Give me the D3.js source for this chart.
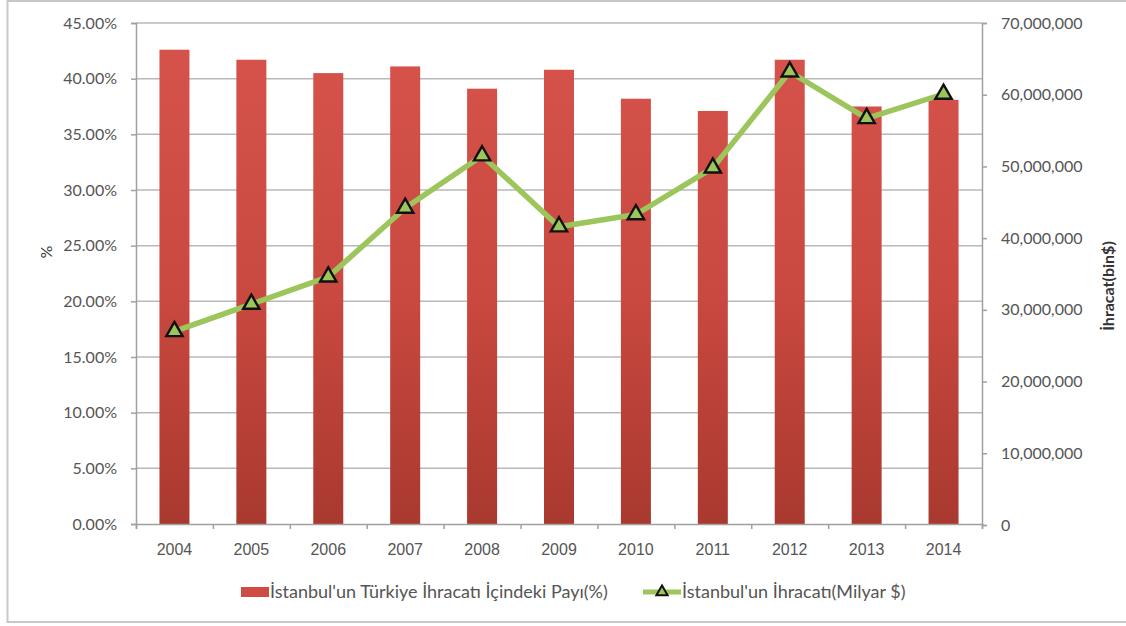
<!DOCTYPE html>
<html>
<head>
<meta charset="utf-8">
<script src="https://cdn.jsdelivr.net/npm/d3@7"></script>
<style>
  html, body { margin: 0; padding: 0; background: #fff; }
  svg { display: block; font-family: Lato, "Open Sans", sans-serif; }
</style>
</head>
<body>
<svg id="chart" width="1126" height="626"></svg>
<script>
// Years on the x axis
const years = ["2004", "2005", "2006", "2007", "2008", "2009", "2010", "2011", "2012", "2013", "2014"];
// Istanbul's share of Turkey's exports (%)
const sharePct = [42.6, 41.7, 40.5, 41.1, 39.1, 40.8, 38.2, 37.1, 41.7, 37.5, 38.1];
// Istanbul's exports (thousand $)
const exportsK = [27000000, 30800000, 34600000, 44200000, 51500000, 41600000, 43300000, 49800000, 63200000, 56700000, 60100000];
// Axis tick values
const leftTicks = [0, 5, 10, 15, 20, 25, 30, 35, 40, 45];
const rightTicks = [0, 10000000, 20000000, 30000000, 40000000, 50000000, 60000000, 70000000];
const legendLabels = ["İstanbul'un Türkiye İhracatı İçindeki Payı(%)", "İstanbul'un İhracatı(Milyar $)"];

const svg = d3.select("#chart");
const plot = { left: 136, right: 982, top: 23, bottom: 524 };
const textColor = "#555";
const gridColor = "#b8b8b8";
const axisColor = "#a0a0a0";
const green = "#9cc55c";
const tickFont = 16;

// Outer frame
svg.append("rect")
  .attr("x", 7.5).attr("y", 1).attr("width", 1130).attr("height", 621)
  .attr("fill", "none").attr("stroke", "#c8c8c8").attr("stroke-width", 2);

const x = d3.scaleBand().domain(years).range([plot.left, plot.right]).paddingInner(0.61).paddingOuter(0.305);
const xEdges = d3.scaleLinear().domain([0, years.length]).range([plot.left, plot.right]);
const yL = d3.scaleLinear().domain([0, 45]).range([plot.bottom, plot.top]);
const yR = d3.scaleLinear().domain([0, 70000000]).range([plot.bottom + 1, plot.top]);

// Bar gradient
const defs = svg.append("defs");
const grad = defs.append("linearGradient").attr("id", "barGrad")
  .attr("gradientUnits", "userSpaceOnUse")
  .attr("x1", 0).attr("x2", 0).attr("y1", plot.top).attr("y2", plot.bottom);
grad.append("stop").attr("offset", "0%").attr("stop-color", "#d6544c");
grad.append("stop").attr("offset", "55%").attr("stop-color", "#c9483f");
grad.append("stop").attr("offset", "100%").attr("stop-color", "#a9392f");

// Gridlines
svg.append("g")
  .selectAll("line").data(leftTicks.filter(d => d > 0)).join("line")
  .attr("x1", plot.left).attr("x2", plot.right)
  .attr("y1", d => yL(d)).attr("y2", d => yL(d))
  .attr("stroke", gridColor).attr("stroke-width", 1.5);

// Bars
svg.append("g")
  .selectAll("rect").data(years).join("rect")
  .attr("x", d => x(d))
  .attr("width", x.bandwidth())
  .attr("y", (d, i) => yL(sharePct[i]))
  .attr("height", (d, i) => plot.bottom - yL(sharePct[i]))
  .attr("fill", "url(#barGrad)");

// Left axis
const leftAxis = svg.append("g")
  .attr("transform", `translate(${plot.left},0)`)
  .call(d3.axisLeft(yL).tickValues(leftTicks).tickFormat(d => d3.format(".2f")(d) + "%").tickSize(5).tickPadding(14));
// Right axis
const rightAxis = svg.append("g")
  .attr("transform", `translate(${plot.right},0)`)
  .call(d3.axisRight(yR).tickValues(rightTicks).tickFormat(d3.format(",")).tickSize(5).tickPadding(14));
// Bottom axis: ticks sit between categories
const bottomAxis = svg.append("g")
  .attr("transform", `translate(0,${plot.bottom})`)
  .call(d3.axisBottom(xEdges).tickValues(d3.range(years.length + 1)).tickFormat("").tickSize(5));
bottomAxis.append("g").selectAll("text").data(years).join("text")
  .attr("x", d => x(d) + x.bandwidth() / 2)
  .attr("y", 31)
  .attr("text-anchor", "middle")
  .attr("fill", textColor)
  .attr("font-size", tickFont)
  .text(d => d);

[leftAxis, rightAxis, bottomAxis].forEach(g => {
  g.select(".domain").attr("stroke", axisColor).attr("stroke-width", 1.5);
  g.selectAll(".tick line").attr("stroke", axisColor).attr("stroke-width", 1.5);
  g.selectAll(".tick text").attr("fill", textColor).attr("font-size", tickFont).attr("font-family", "Lato, sans-serif");
});

// Axis titles
svg.append("text")
  .attr("transform", "translate(52,252) rotate(-90)")
  .attr("text-anchor", "middle")
  .attr("fill", "#333").attr("font-size", 16)
  .text("%");
svg.append("text")
  .attr("transform", "translate(1114,286) rotate(-90)")
  .attr("text-anchor", "middle")
  .attr("fill", "#333").attr("font-size", 16).attr("font-weight", "bold")
  .text("İhracat(bin$)");

// Export line
const cx = (d, i) => x(years[i]) + x.bandwidth() / 2;
const line = d3.line().x((d, i) => cx(d, i)).y(d => yR(d));
svg.append("path")
  .datum(exportsK)
  .attr("d", line)
  .attr("fill", "none")
  .attr("stroke", green)
  .attr("stroke-width", 5.5)
  .attr("stroke-linejoin", "round");

// Triangle markers
const tri = d3.symbol().type(d3.symbolTriangle).size(115);
svg.append("g")
  .selectAll("path").data(exportsK).join("path")
  .attr("transform", (d, i) => `translate(${cx(d, i)},${yR(d)})`)
  .attr("d", tri)
  .attr("fill", green)
  .attr("stroke", "#111")
  .attr("stroke-width", 2.4);

// Legend
const legend = svg.append("g");
legend.append("rect")
  .attr("x", 241).attr("y", 587).attr("width", 28).attr("height", 10)
  .attr("fill", "#cf4c44");
legend.append("text")
  .attr("x", 270).attr("y", 598)
  .attr("fill", textColor).attr("font-size", 18)
  .text(legendLabels[0]);
legend.append("line")
  .attr("x1", 643).attr("x2", 681).attr("y1", 592).attr("y2", 592)
  .attr("stroke", green).attr("stroke-width", 5);
legend.append("path")
  .attr("transform", "translate(662,592)")
  .attr("d", d3.symbol().type(d3.symbolTriangle).size(55))
  .attr("fill", green).attr("stroke", "#111").attr("stroke-width", 2);
legend.append("text")
  .attr("x", 682).attr("y", 598)
  .attr("fill", textColor).attr("font-size", 18)
  .text(legendLabels[1]);
</script>
</body>
</html>
